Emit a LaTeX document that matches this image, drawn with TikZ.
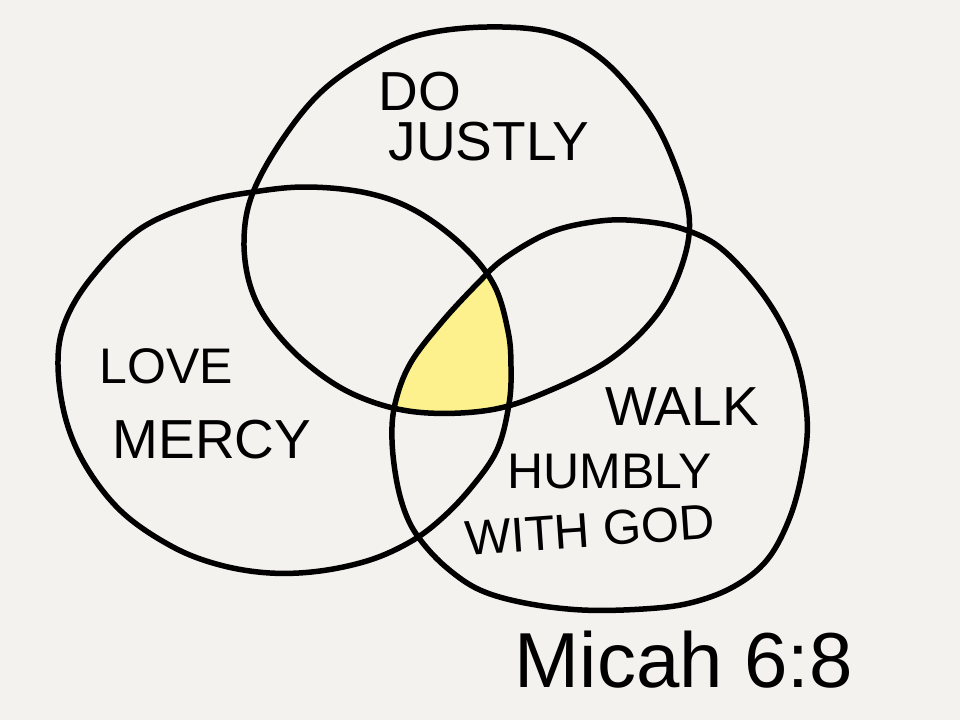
\documentclass[tikz,border=0pt]{standalone}
\usepackage{fontspec}
\setmainfont{Liberation Sans}
\definecolor{bg}{RGB}{244,242,239}
\definecolor{hl}{RGB}{252,241,140}
\begin{document}
\begin{tikzpicture}[x=1pt,y=-1pt,
  ink/.style={line width=5.5pt, line join=round, draw=black},
  lbl/.style={inner sep=0pt, font=\fontsize{55}{60}\selectfont}]
\fill[bg] (0,0) rectangle (960,720);
\useasboundingbox (0,0) rectangle (960,720);
% top circle: DO JUSTLY
\path[save path=\pTop] plot[smooth cycle, tension=0.6] coordinates {
 (487,27) (420,35) (370,57) (320,93) (280,143) (252,195) (244,240) (250,285)
 (269,323) (306,363) (355,395) (416,412) (490,410) (551,390) (612,358) (658,313)
 (683,262) (689,215) (673,160) (647,110) (603,60) (553,33)};
% left ellipse: LOVE MERCY
\path[save path=\pLeft] plot[smooth cycle, tension=0.6] coordinates {
 (307,187) (367,193) (416,211) (463,246) (494,285) (508,331) (511,367) (509,404)
 (497,450) (470,489) (440,520) (410,542) (370,560) (320,571) (270,573) (220,565)
 (173,547) (123,513) (87,468) (66,420) (58,365) (65,322) (92,277) (140,229)
 (200,203) (253,192)};
% right ellipse: WALK HUMBLY WITH GOD
\path[save path=\pRight] plot[smooth cycle, tension=0.6] coordinates {
 (600,221) (551,232) (505,258) (478,283) (441,323) (410,364) (395,404) (392,440)
 (397,483) (407,517) (422,542) (447,568) (480,590) (525,603) (582,610) (643,609)
 (690,603) (733,587) (767,560) (790,517) (803,467) (807,417) (795,355) (767,300)
 (723,250) (683,229) (640,221)};
\begin{scope}
  \clip[use path=\pTop];
  \clip[use path=\pLeft];
  \clip[use path=\pRight];
  \fill[hl] (0,0) rectangle (960,720);
\end{scope}
\draw[ink, use path=\pTop];
\draw[ink, use path=\pLeft];
\draw[ink, use path=\pRight];
\node[lbl] (do) at (420,92) {DO};
\node[lbl] (justly) at (489,142) {JUSTLY};
\node[lbl, font=\fontsize{50}{55}\selectfont] (love) at (166,366) {LOVE};
\node[lbl] (mercy) at (212,440) {MERCY};
\node[lbl] (walk) at (682,407) {WALK};
\node[lbl, font=\fontsize{50}{55}\selectfont] (humbly) at (610,472) {HUMBLY};
\node[lbl, font=\fontsize{49}{54}\selectfont, rotate=4] (withgod) at (590,530) {WITH GOD};
\node[lbl, font=\fontsize{78}{84}\selectfont] (micah) at (684,660) {Micah 6:8};
\end{tikzpicture}
\end{document}
